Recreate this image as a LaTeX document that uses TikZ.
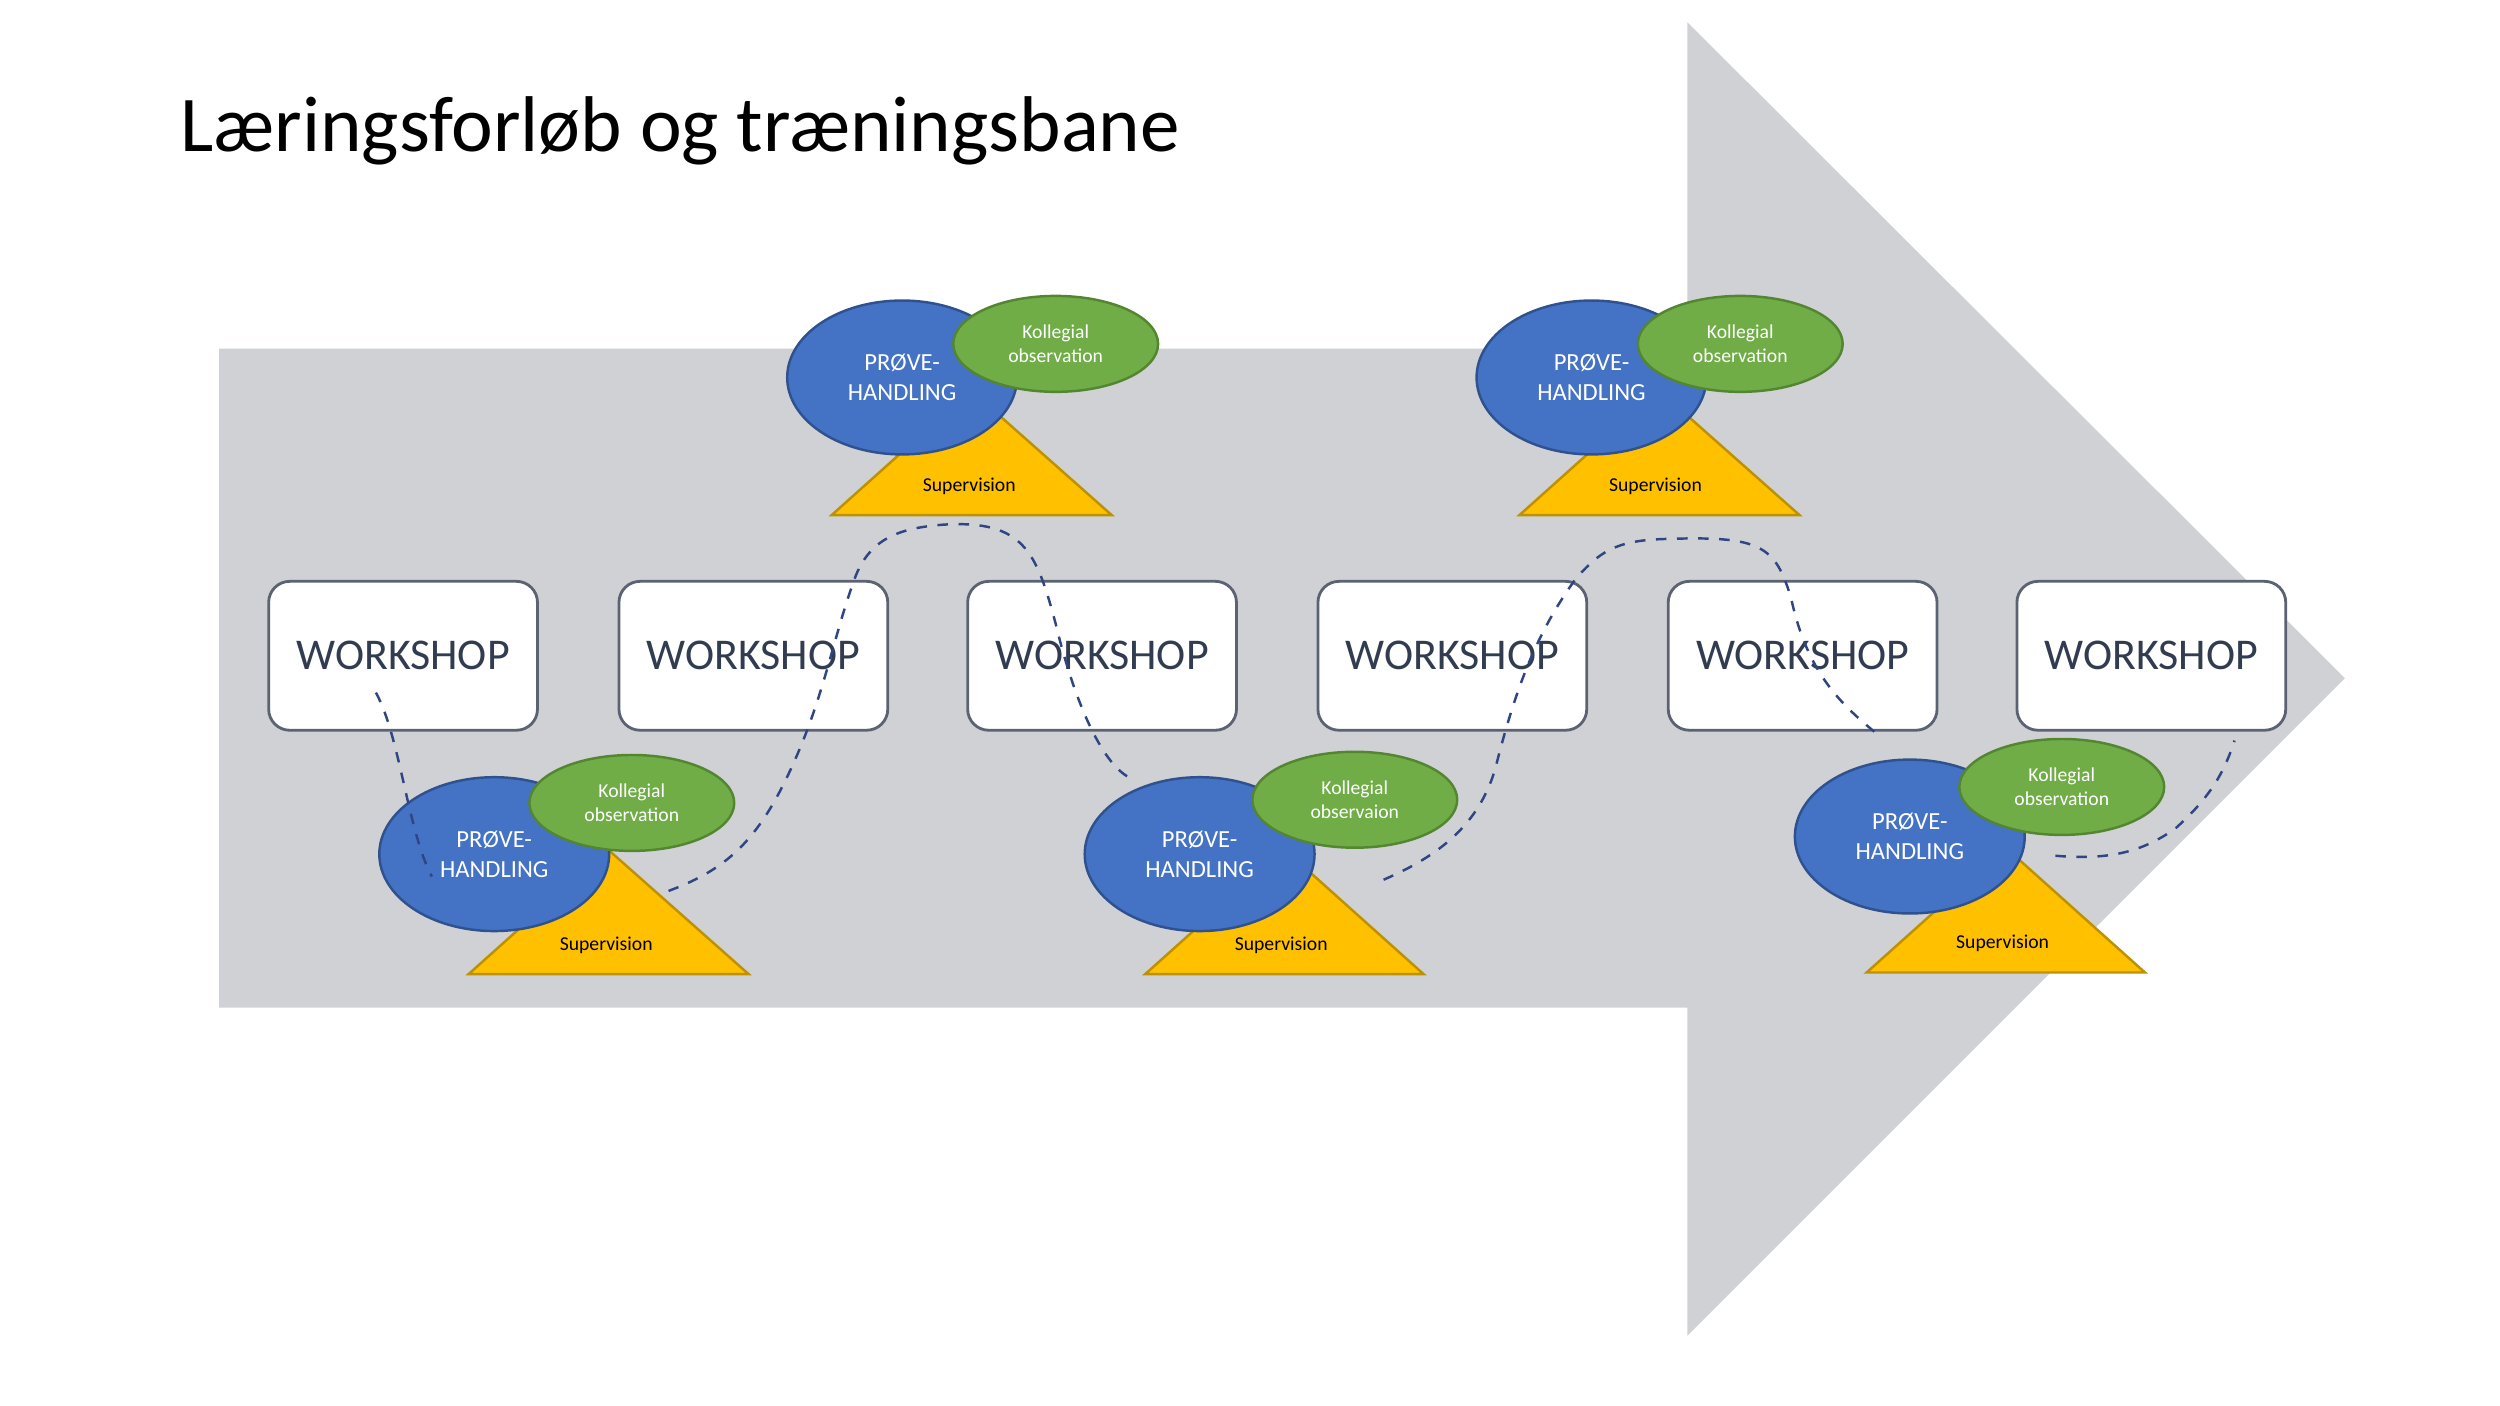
\documentclass[tikz,border=0pt]{standalone}
\usepackage{fontspec}
\setmainfont{Carlito}
\usetikzlibrary{shapes.geometric}
\newcommand\grp[9]{%
  \fill[tri] (#5,#7) -- (#6,#7) -- (#8) -- cycle;
  \node[blu] (b#9) at (#1) {PRØVE-\\HANDLING};
  \node[grn] (g#9) at (#2) {#3};
  \node[lab] (s#9) at (#4) {Supervision};}
\begin{document}
\definecolor{arr}{RGB}{208,209,213}
\definecolor{pb}{RGB}{68,114,196}\definecolor{pbd}{RGB}{47,82,143}
\definecolor{pg}{RGB}{112,173,71}\definecolor{pgd}{RGB}{84,134,50}
\definecolor{py}{RGB}{255,192,0}\definecolor{pyd}{RGB}{190,145,0}
\definecolor{wt}{RGB}{50,60,80}\definecolor{dl}{RGB}{47,70,130}
\begin{tikzpicture}[x=0.016cm,y=-0.016cm,
  ws/.style={draw=wt!80,line width=0.8pt,fill=white,rounded corners=6pt,minimum width=2.69cm,minimum height=1.49cm,text=wt,font=\fontsize{12.5}{14}\selectfont},
  blu/.style={ellipse,draw=pbd,line width=0.7pt,fill=pb,minimum width=2.3cm,minimum height=1.54cm,text=white,align=center,font=\fontsize{7}{8.5}\selectfont},
  grn/.style={ellipse,draw=pgd,line width=0.7pt,fill=pg,minimum width=2.05cm,minimum height=0.96cm,inner sep=1pt,text=white,align=center,font=\fontsize{5.6}{6.8}\selectfont},
  tri/.style={draw=pyd,line width=0.7pt,fill=py},
  lab/.style={font=\fontsize{5.6}{6.8}\selectfont},
  dsh/.style={draw=dl,dashed,line width=0.7pt}]
\useasboundingbox (0,0) rectangle (1563,879);
\fill[arr] (137,218) -- (1055,218) -- (1055,14) -- (1466,424) -- (1055,835) -- (1055,630) -- (137,630) -- cycle;
\node[anchor=base west,font=\fontsize{22.5}{26}\selectfont] (title) at (105,95) {Læringsforløb og træningsbane};
\foreach \x [count=\i] in {252,471,689,908,1127,1345}
  \node[ws] (w\i) at (\x,410) {WORKSHOP};
\grp{564,236}{660,215}{Kollegial\\observation}{606,304}{520}{695}{322}{607,244}{1}
\grp{309,534}{395,502}{Kollegial\\observation}{379,591}{293}{468}{609}{380,531}{2}
\grp{750,534}{847,500}{Kollegial\\observaion}{801,591}{716}{890}{609}{803,531}{3}
\grp{995,236}{1088,215}{Kollegial\\observation}{1035,304}{950}{1125}{322}{1037,244}{4}
\grp{1194,523}{1289,492}{Kollegial\\observation}{1252,590}{1167}{1341}{608}{1254,530}{5}
\coordinate (d1) at (235,433);\coordinate (d2) at (270,548);
\draw[dsh] (d1) .. controls (250,460) and (255,520) .. (d2);
\coordinate (d3) at (418,557);\coordinate (d4) at (708,487);
\draw[dsh] (d3) .. controls (450,545) and (470,530) .. (490,490)
  .. controls (515,440) and (520,400) .. (535,360)
  .. controls (545,335) and (565,330) .. (590,328)
  .. controls (640,325) and (648,345) .. (660,390)
  .. controls (672,440) and (690,480) .. (d4);
\coordinate (d5) at (865,550);\coordinate (d6) at (1175,460);
\draw[dsh] (d5) .. controls (900,535) and (925,515) .. (935,480)
  .. controls (950,420) and (965,390) .. (985,362)
  .. controls (1000,345) and (1010,338) .. (1040,337)
  .. controls (1100,335) and (1110,340) .. (1120,375)
  .. controls (1130,420) and (1150,440) .. (d6);
\coordinate (d7) at (1285,535);\coordinate (d8) at (1397,463);
\draw[dsh] (d7) .. controls (1320,538) and (1340,532) .. (1360,518)
  .. controls (1380,500) and (1390,485) .. (d8);
\end{tikzpicture}
\end{document}
